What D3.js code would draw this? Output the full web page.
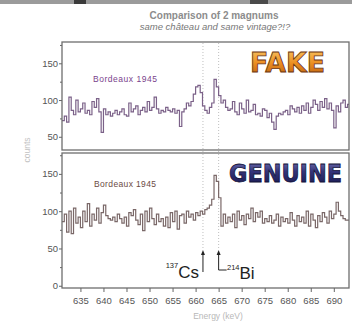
<!DOCTYPE html>
<html>
<head>
<meta charset="utf-8">
<script src="https://cdn.jsdelivr.net/npm/d3@7"></script>
<style>
  body { margin: 0; background: #fff; }
  svg { display: block; font-family: "Liberation Sans", Arial, sans-serif; }
</style>
</head>
<body>
<div id="chart"></div>
<script>
// channel layout of the two gamma spectra (keV)
var channelStart = 631, channelWidth = 0.5;

// "FAKE" magnum, counts per channel
var fakeCounts = [
  72, 78, 70, 104, 86, 80, 100, 84,
  88, 96, 82, 86, 80, 98, 90, 102,
  84, 56, 88, 80, 84, 78, 82, 86,
  80, 84, 88, 80, 78, 96, 84, 88,
  92, 80, 86, 90, 84, 98, 86, 90,
  104, 88, 82, 86, 84, 90, 86, 84,
  88, 82, 86, 64, 84, 88, 96, 92,
  98, 108, 118, 120, 110, 92, 86, 82,
  90, 96, 128, 118, 106, 96, 100, 90,
  86, 88, 98, 84, 80, 96, 88, 82,
  100, 84, 86, 94, 80, 82, 78, 88,
  86, 76, 82, 70, 60, 78, 82, 80,
  84, 86, 80, 92, 88, 84, 90, 82,
  92, 86, 96, 82, 90, 100, 94, 86,
  98, 90, 102, 88, 96, 86, 62, 92,
  84, 96, 100, 90, 94
];

// "GENUINE" magnum, counts per channel
var genuineCounts = [
  86, 96, 72, 100, 70, 104, 84, 92,
  78, 100, 86, 110, 80, 96, 88, 104,
  84, 98, 108, 94, 90, 88, 92, 86,
  96, 90, 84, 92, 80, 98, 94, 102,
  88, 82, 96, 74, 100, 86, 104, 90,
  82, 96, 86, 90, 80, 92, 78, 98,
  86, 100, 76, 94, 96, 84, 100, 92,
  96, 88, 98, 94, 100, 96, 102, 104,
  108, 116, 148, 140, 118, 80, 96, 84,
  92, 86, 96, 78, 100, 88, 94, 82,
  96, 90, 104, 86, 98, 92, 100, 84,
  90, 86, 94, 84, 88, 96, 80, 92,
  86, 90, 84, 98, 88, 80, 94, 86,
  92, 84, 100, 80, 96, 88, 78, 94,
  86, 98, 92, 84, 100, 90, 96, 112,
  100, 94, 90, 88, 88
];

var xTicks = [635, 640, 645, 650, 655, 660, 665, 670, 675, 680, 685, 690];
var topTicks = [50, 100, 150], topMinor = [75, 125, 175];
var bottomTicks = [0, 50, 100, 150], bottomMinor = [25, 75, 125, 175];
var peakLines = [661.6, 665.0];  // 137Cs and 214Bi

var width = 358, height = 323;

var svg = d3.select("#chart").append("svg")
  .attr("width", width)
  .attr("height", height);

var defs = svg.append("defs");
defs.append("clipPath").attr("id", "clipTop")
  .append("rect").attr("x", 62).attr("y", 42).attr("width", 287).attr("height", 108);
defs.append("clipPath").attr("id", "clipBot")
  .append("rect").attr("x", 62).attr("y", 153).attr("width", 287).attr("height", 135);

var gOrange = defs.append("linearGradient").attr("id", "gOrange")
  .attr("x1", 0).attr("y1", 0).attr("x2", 0).attr("y2", 1);
gOrange.append("stop").attr("offset", "0%").attr("stop-color", "#f9c766");
gOrange.append("stop").attr("offset", "50%").attr("stop-color", "#ec8f22");
gOrange.append("stop").attr("offset", "100%").attr("stop-color", "#b55a0e");

var gBlue = defs.append("linearGradient").attr("id", "gBlue")
  .attr("x1", 0).attr("y1", 0).attr("x2", 0).attr("y2", 1);
gBlue.append("stop").attr("offset", "0%").attr("stop-color", "#7a7ab8");
gBlue.append("stop").attr("offset", "45%").attr("stop-color", "#34347a");
gBlue.append("stop").attr("offset", "100%").attr("stop-color", "#15164a");

// greyish strip at the very top (edge of the photo above)
svg.append("rect").attr("x", 0).attr("y", 0).attr("width", 352).attr("height", 4).attr("fill", "#9b9b9b");
svg.append("rect").attr("x", 74).attr("y", 0).attr("width", 12).attr("height", 4).attr("fill", "#3a3a3a");
svg.append("rect").attr("x", 250).attr("y", 0).attr("width", 18).attr("height", 4).attr("fill", "#4a4a4a");

// titles
svg.append("text")
  .attr("x", 214).attr("y", 18.5)
  .attr("text-anchor", "middle")
  .attr("font-size", 10).attr("font-weight", "bold")
  .attr("fill", "#8c8c8c")
  .text("Comparison of 2 magnums");
svg.append("text")
  .attr("x", 215).attr("y", 29.5)
  .attr("text-anchor", "middle")
  .attr("font-size", 9.5).attr("font-style", "italic")
  .attr("fill", "#777")
  .text("same château and same vintage?!?");

// scales
var x = d3.scaleLinear().domain([631, 693.3]).range([62, 349]);
var yTop = d3.scaleLinear().domain([32, 179]).range([150, 42]);
var yBot = d3.scaleLinear().domain([-3, 178]).range([288, 153]);

function steps(counts) {
  var pts = counts.map(function(c, i) { return [channelStart + i * channelWidth, c]; });
  pts.push([channelStart + counts.length * channelWidth, counts[counts.length - 1]]);
  return pts;
}

// dotted peak lines
svg.selectAll(".peak")
  .data(peakLines)
  .enter().append("line")
  .attr("class", "peak")
  .attr("x1", function(d) { return x(d); })
  .attr("x2", function(d) { return x(d); })
  .attr("y1", 43)
  .attr("y2", 250)
  .attr("stroke", "#b8b8b8")
  .attr("stroke-width", 0.9)
  .attr("stroke-dasharray", "1,2");

// spectra
var lineTop = d3.line().curve(d3.curveStepAfter)
  .x(function(d) { return x(d[0]); })
  .y(function(d) { return yTop(d[1]); });
var lineBot = d3.line().curve(d3.curveStepAfter)
  .x(function(d) { return x(d[0]); })
  .y(function(d) { return yBot(d[1]); });

svg.append("path")
  .datum(steps(fakeCounts))
  .attr("clip-path", "url(#clipTop)")
  .attr("d", lineTop)
  .attr("fill", "none")
  .attr("stroke", "#7b6188")
  .attr("stroke-width", 1.2);

svg.append("path")
  .datum(steps(genuineCounts))
  .attr("clip-path", "url(#clipBot)")
  .attr("d", lineBot)
  .attr("fill", "none")
  .attr("stroke", "#7a6868")
  .attr("stroke-width", 1.2);

// frames
svg.append("rect").attr("x", 62).attr("y", 42).attr("width", 287).attr("height", 108)
  .attr("fill", "none").attr("stroke", "#6e6e6e").attr("stroke-width", 1.3);
svg.append("rect").attr("x", 62).attr("y", 153).attr("width", 287).attr("height", 135)
  .attr("fill", "none").attr("stroke", "#6e6e6e").attr("stroke-width", 1.3);

// axes
function styleAxis(g) {
  g.select(".domain").remove();
  g.selectAll(".tick line").attr("stroke", "#666");
  g.selectAll(".tick text").attr("fill", "#555").attr("font-size", 9.5)
    .attr("font-family", "Liberation Sans, Arial, sans-serif");
}

svg.append("g").attr("transform", "translate(62,0)")
  .call(d3.axisLeft(yTop).tickValues(topTicks).tickSize(3).tickPadding(1))
  .call(styleAxis);
svg.append("g").attr("transform", "translate(62,0)")
  .call(d3.axisLeft(yTop).tickValues(topMinor).tickSize(2).tickFormat(""))
  .call(styleAxis);
svg.append("g").attr("transform", "translate(62,0)")
  .call(d3.axisLeft(yBot).tickValues(bottomTicks).tickSize(3).tickPadding(1))
  .call(styleAxis);
svg.append("g").attr("transform", "translate(62,0)")
  .call(d3.axisLeft(yBot).tickValues(bottomMinor).tickSize(2).tickFormat(""))
  .call(styleAxis);
svg.append("g").attr("transform", "translate(0,288)")
  .call(d3.axisBottom(x).tickValues(xTicks).tickSize(4).tickPadding(5))
  .call(styleAxis);

// axis titles
svg.append("text")
  .attr("transform", "translate(30,150) rotate(-90)")
  .attr("text-anchor", "middle")
  .attr("font-size", 8.5)
  .attr("fill", "#c2c2c2")
  .text("counts");
svg.append("text")
  .attr("x", 218).attr("y", 319)
  .attr("text-anchor", "middle")
  .attr("font-size", 8.5)
  .attr("fill", "#b8b8b8")
  .text("Energy (keV)");

// sample labels
svg.append("text")
  .attr("x", 93).attr("y", 81.5)
  .attr("font-size", 8.5)
  .attr("fill", "#7a3f8c")
  .attr("textLength", 64)
  .text("Bordeaux 1945");
svg.append("text")
  .attr("x", 94).attr("y", 186.5)
  .attr("font-size", 8.5)
  .attr("fill", "#6b4a44")
  .attr("textLength", 62)
  .text("Bordeaux 1945");

// stamps
svg.append("text")
  .attr("x", 250).attr("y", 72)
  .attr("font-family", "DejaVu Sans, sans-serif")
  .attr("font-weight", "bold")
  .attr("font-size", 26)
  .attr("textLength", 75)
  .attr("lengthAdjust", "spacingAndGlyphs")
  .attr("fill", "url(#gOrange)")
  .attr("stroke", "#6a3510")
  .attr("stroke-width", 0.8)
  .text("FAKE");
svg.append("text")
  .attr("x", 229).attr("y", 181.5)
  .attr("font-family", "DejaVu Sans, sans-serif")
  .attr("font-weight", "bold")
  .attr("font-size", 25)
  .attr("textLength", 113)
  .attr("lengthAdjust", "spacingAndGlyphs")
  .attr("fill", "url(#gBlue)")
  .attr("stroke", "#12123a")
  .attr("stroke-width", 0.8)
  .text("GENUINE");

// isotope arrows
var arrowY = 250;
function arrow(xv, yEnd) {
  svg.append("line")
    .attr("x1", x(xv)).attr("x2", x(xv))
    .attr("y1", arrowY + 3).attr("y2", yEnd)
    .attr("stroke", "#222").attr("stroke-width", 1);
  svg.append("path")
    .attr("d", "M" + (x(xv) - 2) + "," + (arrowY + 5) + "L" + x(xv) + "," + arrowY + "L" + (x(xv) + 2) + "," + (arrowY + 5) + "Z")
    .attr("fill", "#222");
}
arrow(peakLines[0], 272);
arrow(peakLines[1], 270);
svg.append("line")
  .attr("x1", x(peakLines[1])).attr("x2", x(peakLines[1]) + 8)
  .attr("y1", 270).attr("y2", 270)
  .attr("stroke", "#222").attr("stroke-width", 1);

var cs = svg.append("text").attr("x", 199).attr("y", 278).attr("text-anchor", "end").attr("fill", "#222");
cs.append("tspan").attr("font-size", 7.5).attr("dy", -10).text("137");
cs.append("tspan").attr("font-size", 17).attr("dy", 10).text("Cs");

var bi = svg.append("text").attr("x", 227).attr("y", 279).attr("fill", "#222");
bi.append("tspan").attr("font-size", 7.5).attr("dy", -9).text("214");
bi.append("tspan").attr("font-size", 17).attr("dy", 9).text("Bi");
</script>
</body>
</html>
